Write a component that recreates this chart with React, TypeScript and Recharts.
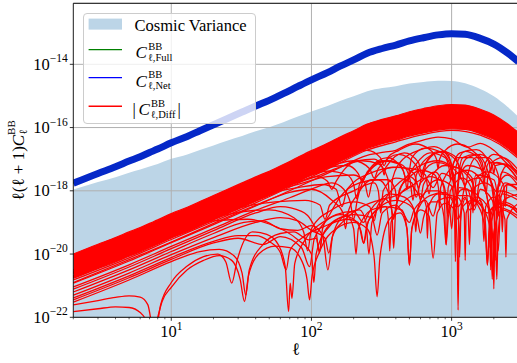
import React from 'react';
import {
  ComposedChart,
  Area,
  Line,
  XAxis,
  YAxis,
  CartesianGrid,
  ReferenceArea,
  ReferenceLine,
  Legend,
  Label,
} from 'recharts';

const FONT = "'Liberation Serif', 'DejaVu Serif', 'Times New Roman', serif";
const CV_FILL = '#bcd5e7';
const NET_BLUE = '#0528c8';
const FULL_GREEN = '#008000';
const DIFF_RED = '#ff0000';
const GRID = '#b0b0b0';

// multipole sample points
const ells = [2, 3, 4, 5, 6, 7, 8, 10, 13, 16, 20, 25, 32, 40, 50, 63, 80, 100, 130, 160, 200, 250, 320, 400, 500, 630, 800, 1000, 1250, 1600, 2000, 2500, 3000];

// log10 of l(l+1)C_l^BB
const netLog = [-17.76, -17.45, -17.24, -17.06, -16.92, -16.79, -16.68, -16.48, -16.28, -16.1, -15.91, -15.72, -15.51, -15.32, -15.14, -14.93, -14.7, -14.49, -14.26, -14.06, -13.86, -13.65, -13.5, -13.39, -13.26, -13.16, -13.07, -13.03, -13.05, -13.18, -13.36, -13.64, -13.92];
const fullLog = [-17.76, -17.45, -17.24, -17.06, -16.92, -16.79, -16.68, -16.48, -16.28, -16.1, -15.91, -15.72, -15.51, -15.32, -15.14, -14.93, -14.7, -14.49, -14.26, -14.06, -13.86, -13.65, -13.5, -13.39, -13.26, -13.16, -13.07, -13.03, -13.05, -13.18, -13.36, -13.64, -13.92];
const cosmicVarianceLog = [-17.96, -17.72, -17.57, -17.43, -17.33, -17.23, -17.15, -16.99, -16.85, -16.71, -16.57, -16.42, -16.27, -16.12, -15.99, -15.83, -15.65, -15.49, -15.32, -15.16, -15.01, -14.85, -14.75, -14.69, -14.61, -14.56, -14.52, -14.53, -14.6, -14.78, -15.01, -15.34, -15.66];
// dense bundle of |C_diff| curves: upper and lower envelope of the solid red band
const diffBandHighLog = [-20.0, -19.69, -19.48, -19.3, -19.16, -19.03, -18.92, -18.72, -18.52, -18.34, -18.15, -17.96, -17.75, -17.56, -17.38, -17.17, -16.94, -16.73, -16.5, -16.3, -16.1, -15.89, -15.74, -15.63, -15.5, -15.4, -15.31, -15.27, -15.29, -15.42, -15.6, -15.88, -16.16];
const diffBandLowLog = [-20.77, -20.46, -20.25, -20.07, -19.93, -19.8, -19.69, -19.49, -19.29, -19.11, -18.92, -18.73, -18.52, -18.33, -18.15, -17.94, -17.71, -17.5, -17.27, -17.07, -16.87, -16.66, -16.51, -16.4, -16.27, -16.17, -16.08, -16.04, -16.06, -16.19, -16.37, -16.65, -16.93];

// individual |C_diff| curves that leave the bundle: [l, log10 value]
const diffCurves: number[][][] = [
  [[2, -21.61], [3, -21.47], [4, -21.37], [5, -21.32], [6, -21.36], [6.8, -21.6], [7.6, -22.6], [8.4, -21.6], [10, -20.9], [13, -20.38], [17, -20.08], [21.5, -20.0], [24.5, -20.25], [27, -20.92], [29.5, -20.2], [38, -19.3], [48, -19.38], [58, -19.7], [65, -20.4], [68.7, -21.82], [70.5, -20.92], [72.6, -21.4], [76, -20.3], [90, -19.55], [120, -19.0], [160, -18.75], [200, -18.9], [225, -19.25], [236, -19.66], [248, -19.1], [300, -18.55], [400, -18.3], [500, -18.45], [570, -18.9], [599, -19.34], [630, -18.85], [720, -18.35], [820, -18.35], [880, -18.8], [913, -19.71], [950, -18.8], [1100, -18.15], [1300, -18.15], [1600, -18.6], [1740, -19.3], [1800, -20.35], [1860, -19.3], [2100, -18.55], [2500, -18.45], [3000, -18.75]],
  [[2, -21.82], [3, -21.73], [4, -21.67], [5, -21.69], [6, -21.85], [6.6, -22.1], [7.2, -22.8], [7.9, -22.1], [8.6, -21.5], [10, -21.05], [13, -20.5], [17, -20.2], [22, -20.05], [27, -20.2], [31, -20.8], [33.3, -21.5], [35.5, -20.7], [42, -20.0], [55, -19.75], [70, -19.8], [85, -20.2], [93, -20.8], [97, -21.45], [101, -20.7], [115, -19.9], [150, -19.2], [200, -19.0], [250, -19.2], [280, -20.1], [294, -21.35], [308, -20.1], [360, -18.9], [430, -18.7], [480, -19.2], [500, -20.35], [520, -19.2], [600, -18.6], [690, -18.8], [738, -20.13], [790, -18.7], [900, -18.4], [1050, -18.6], [1095, -19.6], [1112, -21.77], [1130, -19.6], [1200, -18.5], [1400, -18.3], [1700, -18.6], [1900, -19.3], [1950, -20.8], [2000, -19.3], [2300, -18.6], [3000, -18.9]],
  [[2, -20.82], [5, -20.12], [10, -19.54], [20, -18.97], [40, -18.38], [80, -17.76], [150, -17.18], [250, -16.71], [400, -16.45], [600, -16.24], [1000, -16.09], [1600, -16.24], [2200, -16.53], [3000, -16.98]],
  [[2, -20.92], [5, -20.22], [10, -19.64], [20, -19.07], [40, -18.48], [80, -17.88], [150, -17.32], [250, -16.88], [330, -16.78], [400, -16.72], [480, -16.55], [600, -16.42], [800, -16.3], [1000, -16.36], [1300, -16.62], [1600, -16.5], [2000, -16.72], [2500, -17.15], [3000, -17.4]],
  [[2, -21.04], [5, -20.34], [10, -19.76], [20, -19.19], [40, -18.62], [70, -18.22], [100, -17.95], [140, -17.75], [170, -17.95], [190, -18.4], [200, -18.9], [212, -18.3], [260, -17.35], [350, -17.05], [450, -17.2], [505, -17.65], [530, -18.3], [560, -17.5], [700, -16.9], [900, -16.75], [1000, -17.2], [1045, -18.2], [1064, -20.24], [1085, -18.2], [1200, -16.95], [1500, -16.85], [1850, -17.5], [2000, -18.4], [2050, -20.2], [2100, -18.4], [2300, -17.4], [3000, -17.7]],
  [[2, -21.11], [5, -20.41], [10, -19.83], [20, -19.26], [40, -18.7], [60, -18.5], [85, -18.65], [100, -18.95], [108, -19.3], [114, -19.97], [120, -19.2], [135, -18.75], [160, -18.2], [220, -17.75], [300, -17.65], [350, -18.0], [375, -18.7], [386, -19.82], [398, -18.7], [450, -17.75], [600, -17.2], [800, -17.05], [1000, -17.25], [1250, -17.9], [1310, -18.6], [1340, -19.7], [1370, -18.6], [1500, -17.5], [1800, -17.55], [2050, -18.2], [2150, -19.9], [2250, -18.2], [2500, -17.8], [3000, -18.0]],
  [[2, -21.2], [5, -20.5], [10, -19.92], [20, -19.35], [33, -19.0], [45, -18.95], [60, -19.2], [80, -19.25], [100, -19.1], [120, -19.4], [131, -20.5], [142, -19.4], [170, -18.8], [220, -18.6], [245, -19.0], [257, -20.0], [270, -19.0], [330, -18.3], [420, -17.75], [500, -17.55], [570, -17.8], [599, -18.3], [630, -17.8], [760, -17.4], [880, -17.9], [913, -19.71], [945, -17.9], [1050, -17.5], [1300, -17.35], [1700, -17.8], [1860, -18.9], [1900, -20.5], [1940, -18.9], [2200, -18.0], [3000, -18.2]],
  [[2, -21.3], [5, -20.6], [10, -20.02], [20, -19.48], [40, -19.0], [60, -18.85], [80, -18.95], [100, -19.25], [125, -19.5], [133, -19.97], [141, -19.45], [170, -18.95], [220, -18.55], [300, -18.3], [400, -18.15], [500, -17.9], [650, -17.6], [738, -17.9], [850, -17.45], [1000, -17.6], [1110, -18.5], [1140, -20.1], [1170, -18.5], [1300, -17.7], [1550, -17.6], [1850, -18.5], [1970, -19.6], [2000, -21.1], [2030, -19.6], [2300, -18.1], [3000, -18.3]],
  [[2, -21.39], [5, -20.69], [10, -20.11], [20, -19.6], [30, -19.42], [40, -19.42], [50, -19.6], [60, -19.95], [66, -20.5], [70, -19.9], [85, -19.5], [120, -19.15], [180, -18.9], [215, -19.0], [236, -19.66], [255, -18.95], [330, -18.5], [440, -18.6], [480, -19.2], [500, -20.35], [520, -19.2], [580, -18.55], [700, -18.15], [900, -18.05], [1112, -18.5], [1250, -18.2], [1340, -18.6], [1600, -18.3], [1740, -19.0], [1800, -20.35], [1860, -19.0], [2100, -18.4], [3000, -18.6]],
  [[2, -21.45], [5, -20.75], [10, -20.17], [20, -19.65], [30, -19.5], [45, -19.7], [60, -19.45], [85, -19.8], [97, -20.4], [105, -19.5], [150, -18.75], [200, -18.65], [235, -19.0], [260, -18.65], [330, -18.25], [370, -18.5], [386, -18.9], [400, -18.5], [440, -18.05], [520, -17.85], [610, -18.2], [680, -17.85], [800, -17.65], [1000, -17.85], [1064, -18.5], [1130, -17.9], [1300, -17.95], [1450, -18.6], [1600, -17.95], [1950, -18.3], [2060, -19.5], [2100, -20.8], [2140, -19.5], [2300, -18.35], [2700, -18.45], [3000, -18.65]],
  [[2, -21.52], [5, -20.82], [10, -20.24], [16, -19.92], [22, -19.85], [28, -20.05], [32, -20.6], [34, -21.3], [36, -20.5], [45, -19.7], [60, -19.35], [75, -19.3], [95, -19.55], [108, -19.5], [114, -19.9], [120, -19.4], [160, -18.85], [200, -18.75], [270, -18.85], [294, -19.4], [320, -18.7], [400, -18.45], [450, -18.7], [500, -19.0], [540, -18.6], [650, -18.3], [738, -18.8], [800, -18.3], [1000, -18.2], [1112, -18.9], [1250, -18.25], [1340, -18.4], [1500, -18.3], [1800, -18.7], [2000, -18.5], [2500, -18.6], [3000, -18.8]],
  [[2, -20.6], [10, -19.32], [40, -18.16], [80, -17.56], [120, -17.3], [180, -17.2], [215, -17.45], [230, -17.7], [250, -17.4], [350, -16.95], [450, -17.35], [480, -17.7], [500, -17.35], [520, -16.95], [650, -16.65], [850, -16.8], [980, -17.2], [1000, -17.45], [1030, -17.15], [1150, -16.8], [1500, -16.7], [1850, -17.1], [1900, -17.4], [1950, -17.1], [2300, -16.95], [3000, -17.35]],
  [[2, -20.5], [10, -19.22], [40, -18.06], [100, -17.25], [160, -16.9], [250, -16.72], [310, -16.95], [330, -17.2], [350, -16.95], [420, -16.72], [550, -16.52], [700, -16.7], [780, -17.0], [800, -17.3], [820, -17.0], [900, -16.72], [1100, -16.52], [1400, -16.72], [1650, -17.1], [1700, -17.35], [1750, -17.1], [2000, -16.85], [2500, -17.05], [3000, -17.5]],
  [[2, -20.7], [10, -19.42], [40, -18.26], [100, -17.5], [200, -17.05], [260, -17.3], [280, -17.6], [300, -17.3], [420, -16.85], [560, -17.2], [600, -17.55], [640, -17.2], [800, -16.75], [1000, -16.9], [1200, -17.5], [1250, -17.85], [1300, -17.5], [1500, -16.95], [1800, -16.95], [2150, -17.5], [2200, -17.85], [2250, -17.5], [2500, -17.2], [3000, -17.45]],
  [[2, -20.75], [10, -19.47], [40, -18.31], [80, -17.72], [110, -17.55], [130, -17.7], [140, -17.95], [150, -17.7], [210, -17.05], [280, -17.0], [320, -17.25], [330, -17.5], [340, -17.25], [460, -16.8], [580, -17.1], [620, -17.6], [660, -17.1], [850, -16.75], [1050, -16.9], [1130, -17.3], [1150, -17.6], [1170, -17.3], [1300, -16.95], [1600, -16.85], [1950, -17.2], [2000, -17.45], [2050, -17.2], [2400, -17.15], [3000, -17.55]],
  [[2, -20.68], [10, -19.4], [40, -18.24], [90, -17.57], [130, -17.38], [180, -17.5], [200, -17.8], [210, -18.25], [220, -17.8], [250, -17.45], [320, -17.05], [420, -17.15], [465, -17.55], [480, -17.95], [495, -17.55], [560, -17.15], [700, -16.8], [900, -16.95], [960, -17.3], [980, -17.65], [1000, -17.3], [1100, -16.95], [1400, -16.95], [1650, -17.4], [1700, -17.75], [1750, -17.4], [1850, -17.1], [2300, -17.15], [3000, -17.65]],
  [[2, -20.9], [10, -19.62], [40, -18.46], [70, -18.05], [100, -17.95], [140, -18.3], [168, -18.7], [175, -19.2], [182, -18.7], [210, -18.15], [270, -17.65], [350, -17.65], [395, -17.95], [410, -18.35], [425, -17.95], [480, -17.65], [600, -17.35], [760, -17.5], [805, -17.9], [820, -18.6], [835, -17.9], [900, -17.55], [1050, -17.25], [1250, -17.45], [1450, -17.9], [1500, -18.4], [1550, -17.9], [1650, -17.55], [2000, -17.65], [2120, -18.2], [2150, -18.8], [2180, -18.2], [2400, -17.75], [3000, -17.95]],
  [[2, -20.55], [10, -19.27], [40, -18.11], [100, -17.6], [160, -17.25], [230, -17.05], [300, -17.15], [350, -17.6], [365, -18.4], [380, -17.6], [450, -17.0], [600, -16.7], [750, -16.6], [900, -16.8], [1000, -17.2], [1040, -17.9], [1080, -17.2], [1250, -16.75], [1500, -16.9], [1700, -17.5], [1760, -18.1], [1820, -17.5], [2100, -17.1], [2600, -17.3], [3000, -17.7]],
  [[2, -20.62], [10, -19.34], [40, -18.18], [80, -17.9], [120, -17.8], [150, -17.95], [165, -18.5], [180, -17.95], [260, -17.45], [420, -17.25], [540, -17.45], [580, -17.9], [620, -17.45], [780, -17.1], [950, -17.2], [1050, -17.6], [1090, -18.3], [1130, -17.6], [1300, -17.2], [1600, -17.3], [1950, -17.8], [2050, -18.6], [2150, -17.8], [2500, -17.5], [3000, -17.85]],
  [[2, -20.7], [10, -19.42], [30, -18.55], [55, -18.35], [90, -18.3], [115, -18.45], [125, -18.9], [135, -18.45], [200, -18.0], [280, -17.75], [300, -18.0], [312, -18.7], [325, -18.0], [400, -17.6], [520, -17.75], [560, -18.2], [600, -17.75], [700, -17.55], [850, -17.7], [900, -18.0], [940, -18.8], [980, -18.0], [1200, -17.6], [1380, -17.9], [1420, -18.7], [1460, -17.9], [1700, -17.75], [2250, -18.3], [2300, -19.3], [2350, -18.3], [3000, -18.1]],
  [[2, -20.72], [10, -19.44], [25, -18.75], [50, -18.6], [75, -18.85], [88, -19.3], [94, -19.9], [100, -19.2], [140, -18.6], [200, -18.35], [260, -18.5], [280, -18.95], [295, -18.5], [360, -18.1], [460, -18.2], [540, -18.6], [555, -19.3], [570, -18.6], [680, -18.0], [800, -18.0], [960, -18.4], [1000, -19.2], [1040, -18.4], [1200, -17.95], [1500, -18.1], [1650, -18.5], [1700, -19.6], [1750, -18.5], [2000, -18.2], [2400, -18.9], [2440, -20.1], [2480, -18.9], [3000, -18.4]],
  [[2, -20.74], [10, -19.46], [20, -18.95], [35, -18.9], [50, -19.05], [80, -19.55], [100, -20.0], [104, -20.9], [108, -20.0], [130, -19.2], [180, -18.8], [200, -19.2], [208, -20.0], [216, -19.2], [270, -18.6], [340, -18.5], [355, -19.0], [362, -19.9], [370, -19.0], [420, -18.5], [600, -18.1], [660, -18.5], [672, -19.5], [685, -18.5], [800, -18.1], [1100, -18.2], [1230, -18.7], [1250, -20.2], [1270, -18.7], [1500, -18.2], [1860, -18.6], [1880, -19.8], [1900, -18.6], [2300, -18.4], [3000, -18.7]],
  [[2, -20.58], [10, -19.3], [40, -18.14], [80, -17.8], [130, -17.55], [200, -17.5], [240, -17.75], [255, -18.2], [270, -17.75], [380, -17.25], [520, -17.3], [650, -17.5], [690, -18.1], [730, -17.5], [900, -17.2], [1150, -17.3], [1400, -17.6], [1450, -18.2], [1500, -17.6], [1800, -17.4], [2350, -17.8], [2420, -18.5], [2480, -17.8], [3000, -17.8]],
];

// axes
const X_DOMAIN: [number, number] = [2, 3000];
const Y_DOMAIN: [number, number] = [1e-22, 8.5e-13];
const xMajorTicks = [10, 100, 1000];
const xMinorTicks = [2, 3, 4, 5, 6, 7, 8, 9, 20, 30, 40, 50, 60, 70, 80, 90, 200, 300, 400, 500, 600, 700, 800, 900, 2000];
const yTicks = [1e-22, 1e-20, 1e-18, 1e-16, 1e-14];

const mainRows = ells.map((l, i) => ({
  l,
  net: Math.pow(10, netLog[i]),
  full: Math.pow(10, fullLog[i]),
  cv: Math.pow(10, cosmicVarianceLog[i]),
  diffBand: [Math.pow(10, diffBandLowLog[i]), Math.pow(10, diffBandHighLog[i])],
}));

const curveRows = diffCurves.map((c) => c.map(([l, v]) => ({ l, v: Math.pow(10, v) })));

const allXTicks = [...xMinorTicks, ...xMajorTicks].sort((a, b) => a - b);

const supText = (v: number) => {
  const e = Math.round(Math.log10(v));
  return e < 0 ? '\u2212' + Math.abs(e) : String(e);
};

const TICK_FS = 16.5;
const SUP_FS = 11.5;

const XTick = (props: any) => {
  const { x, y, payload } = props;
  const v = payload.value;
  const isMajor = xMajorTicks.includes(v);
  return (
    <g>
      <line x1={x} x2={x} y1={y} y2={y + (isMajor ? 3.5 : 2)} stroke="#000" strokeWidth={isMajor ? 0.8 : 0.6} />
      {isMajor && (
        <text x={x} y={y + 19.8} textAnchor="middle" fontFamily={FONT} fontSize={TICK_FS} fill="#000">
          10
          <tspan dy={-7.5} fontSize={SUP_FS}>
            {supText(v)}
          </tspan>
        </text>
      )}
    </g>
  );
};

const YTick = (props: any) => {
  const { x, y, payload } = props;
  return (
    <g>
      <line x1={x - 3.5} x2={x} y1={y} y2={y} stroke="#000" strokeWidth={0.8} />
      <text x={x - 5.5} y={y + 5.6} textAnchor="end" fontFamily={FONT} fontSize={TICK_FS} fill="#000">
        10
        <tspan dy={-7.5} fontSize={SUP_FS}>
          {supText(payload.value)}
        </tspan>
      </text>
    </g>
  );
};

const YAxisLabel = (props: any) => {
  const vb = props.viewBox || {};
  const cy = vb.height ? vb.y + vb.height / 2 : 160.3;
  return (
    <text transform={`translate(24, ${cy}) rotate(-90)`} textAnchor="middle" fontFamily={FONT} fontSize={17} fill="#000">
      <tspan>ℓ(ℓ + 1)</tspan>
      <tspan fontStyle="italic">C</tspan>
      <tspan dy={-9} fontSize={11}>BB</tspan>
      <tspan dx={-14.5} dy={11.5} fontSize={11}>ℓ</tspan>
    </text>
  );
};

const XAxisLabel = (props: any) => {
  const vb = props.viewBox || {};
  const cx = vb.width ? vb.x + vb.width / 2 : 296;
  return (
    <text x={cx} y={355} textAnchor="middle" fontFamily={FONT} fontSize={17.5} fill="#000">
      ℓ
    </text>
  );
};

const MathEntry = ({ x, y, sub, bars }: { x: number; y: number; sub: string; bars?: boolean }) => {
  const cx = bars ? x + 4.8 : x;
  return (
    <g fontFamily={FONT} fill="#000">
      {bars && (
        <text x={x} y={y} fontSize={16.5}>
          |
        </text>
      )}
      <text x={cx + 1} y={y} fontSize={17} fontStyle="italic">
        C
      </text>
      <text x={cx + 13.6} y={y - 8.7} fontSize={10.5}>
        BB
      </text>
      <text x={cx + 13.2} y={y + 2.6} fontSize={10.5}>
        {sub}
      </text>
      {bars && (
        <text x={x + 45} y={y} fontSize={16.5}>
          |
        </text>
      )}
    </g>
  );
};

const LegendBox = () => (
  <div
    style={{
      width: 173,
      height: 111.7,
      boxSizing: 'border-box',
      border: '1px solid #cccccc',
      borderRadius: 4,
      background: 'rgba(255,255,255,0.8)',
      position: 'relative',
    }}
  >
    <svg width={173} height={112} style={{ position: 'absolute', left: -1, top: -1 }}>
      <rect x={5.6} y={5.6} width={33.4} height={11} fill={CV_FILL} />
      <text x={51.6} y={18} fontFamily={FONT} fontSize={16.5} fill="#000">
        Cosmic Variance
      </text>
      <line x1={5.6} x2={39} y1={36.6} y2={36.6} stroke={FULL_GREEN} strokeWidth={1.4} />
      <MathEntry x={51.6} y={45.3} sub="ℓ,Full" />
      <line x1={5.6} x2={39} y1={64.6} y2={64.6} stroke="#0000ff" strokeWidth={1.4} />
      <MathEntry x={51.6} y={73.6} sub="ℓ,Net" />
      <line x1={5.6} x2={39} y1={93.3} y2={93.3} stroke={DIFF_RED} strokeWidth={1.4} />
      <MathEntry x={49.6} y={102.3} sub="ℓ,Diff" bars />
    </svg>
  </div>
);

export default function App() {
  return (
    <div style={{ position: 'absolute', left: 0, top: 0, width: 517, height: 363, overflow: 'hidden', background: '#fff' }}>
      <ComposedChart
        width={520}
        height={363}
        data={mainRows}
        margin={{ top: 3.3, right: 1.5, bottom: 0, left: 0 }}
      >
        <XAxis
          dataKey="l"
          type="number"
          scale="log"
          domain={X_DOMAIN}
          allowDataOverflow
          ticks={allXTicks}
          interval={0}
          tick={<XTick />}
          tickLine={false}
          tickSize={0}
          tickMargin={0}
          axisLine={false}
          height={45.7}
        >
          <Label content={<XAxisLabel />} />
        </XAxis>
        <YAxis
          type="number"
          scale="log"
          domain={Y_DOMAIN}
          allowDataOverflow
          ticks={yTicks}
          interval={0}
          tick={<YTick />}
          tickLine={false}
          tickSize={0}
          tickMargin={0}
          axisLine={false}
          width={73.3}
        >
          <Label content={<YAxisLabel />} />
        </YAxis>
        <Area
          dataKey="cv"
          type="monotone"
          baseValue={1e-22}
          fill={CV_FILL}
          fillOpacity={1}
          stroke="none"
          isAnimationActive={false}
          zIndex={100}
        />
        <CartesianGrid vertical={false} stroke={GRID} strokeWidth={1} zIndex={150} />
        {xMajorTicks.map((t) => (
          <ReferenceLine key={'g' + t} x={t} stroke={GRID} strokeWidth={1} zIndex={150} />
        ))}
        <Area
          dataKey="diffBand"
          type="monotone"
          fill={DIFF_RED}
          fillOpacity={1}
          stroke={DIFF_RED}
          strokeWidth={1.2}
          isAnimationActive={false}
          zIndex={160}
        />
        {curveRows.map((rows, k) => (
          <Line
            key={'d' + k}
            data={rows}
            dataKey="v"
            type="monotone"
            stroke={DIFF_RED}
            strokeWidth={1.3}
            dot={false}
            isAnimationActive={false}
            zIndex={400}
          />
        ))}
        <Line dataKey="full" type="monotone" stroke={FULL_GREEN} strokeWidth={1.5} dot={false} isAnimationActive={false} zIndex={410} />
        <Line dataKey="net" type="monotone" stroke={NET_BLUE} strokeWidth={7} dot={false} isAnimationActive={false} zIndex={420} />
        <ReferenceArea x1={X_DOMAIN[0]} x2={X_DOMAIN[1]} y1={Y_DOMAIN[0]} y2={Y_DOMAIN[1]} fill="none" stroke="#000" strokeWidth={0.9} zIndex={900} />
        <Legend
          layout="horizontal"
          verticalAlign="middle"
          align="center"
          content={() => <LegendBox />}
          wrapperStyle={{ left: 82.7, top: 12.7, width: 173, height: 111.7 }}
        />
      </ComposedChart>
    </div>
  );
}
